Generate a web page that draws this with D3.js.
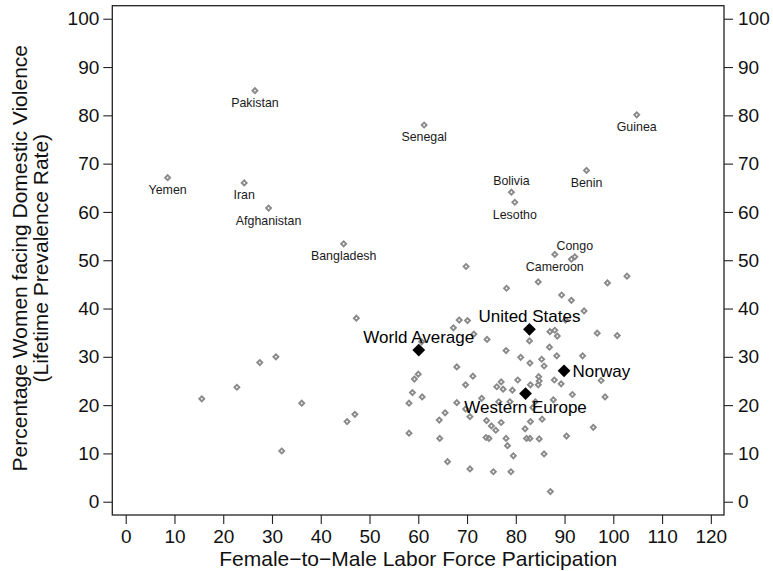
<!DOCTYPE html>
<html>
<head>
<meta charset="utf-8">
<script src="https://cdn.jsdelivr.net/npm/d3@7"></script>
<style>
  html, body { margin: 0; padding: 0; background: #fff; }
  svg { display: block; font-family: "Liberation Sans", Arial, Helvetica, sans-serif; }
</style>
</head>
<body>
<svg id="chart" width="773" height="571"></svg>
<script>
// ---------- data ----------
const xTicks = [0, 10, 20, 30, 40, 50, 60, 70, 80, 90, 100, 110, 120];
const yTicks = [0, 10, 20, 30, 40, 50, 60, 70, 80, 90, 100];

// unlabeled countries: [labor participation ratio, DV prevalence]
const countryX = [
  15.6, 22.8, 27.5, 30.8, 32.0, 36.1, 45.4, 47.0, 47.3, 58.1, 58.1, 58.8, 59.2, 60.0, 60.8, 60.7,
  64.3, 65.5, 64.4, 66.0, 67.2, 68.4, 70.1, 71.4, 69.8, 67.9, 71.2, 69.7, 67.9, 69.7, 70.6, 70.6,
  73.0, 74.1, 74.0, 75.0, 75.9, 77.0, 73.9, 74.5, 75.4, 76.5, 77.0, 76.1, 77.4, 78.0, 78.1, 78.0,
  78.3, 78.8, 79.3, 79.5, 79.0,
  80.4, 81.0, 81.9, 82.2, 82.8, 82.9, 82.9, 83.0, 83.0, 84.0, 84.6, 84.7, 84.8, 84.6, 84.8, 85.3,
  85.8, 85.4, 85.8, 86.9, 87.0, 88.0, 88.5, 87.1, 87.7, 87.9, 88.4, 89.3, 89.4, 90.2, 90.4, 91.4,
  91.4, 91.6, 93.7, 94.0, 95.9, 96.7, 97.5, 98.3, 98.8, 100.8, 102.8, 83.5
];
const countryY = [
  21.3, 23.7, 28.8, 30.0, 10.5, 20.4, 16.6, 18.1, 38.0, 14.2, 20.4, 22.6, 25.4, 26.4, 21.7, 33.1,
  16.9, 18.4, 13.1, 8.3, 36.0, 37.6, 37.5, 34.7, 48.7, 27.9, 26.0, 24.2, 20.5, 19.2, 17.6, 6.8,
  21.4, 33.6, 16.8, 15.7, 14.8, 16.4, 13.3, 13.1, 6.2, 20.7, 24.8, 23.8, 23.3, 31.3, 44.2, 13.1,
  11.6, 20.7, 23.1, 9.5, 6.2,
  25.2, 29.9, 15.1, 13.1, 33.3, 28.7, 13.1, 24.2, 16.6, 20.7, 24.2, 25.9, 25.0, 45.5, 13.0, 29.5,
  28.1, 17.1, 9.9, 32.0, 35.2, 35.5, 34.3, 2.1, 21.1, 25.2, 30.2, 24.4, 42.8, 37.6, 13.6, 41.7,
  50.2, 22.2, 30.2, 39.5, 15.4, 34.9, 25.1, 21.7, 45.3, 34.4, 46.7, 19.5
];

// labeled countries
const namedCountries = ["Yemen", "Pakistan", "Iran", "Afghanistan", "Bangladesh", "Senegal",
  "Bolivia", "Lesotho", "Benin", "Guinea", "Congo", "Cameroon"];
const namedX = [8.6, 26.5, 24.3, 29.3, 44.7, 61.2, 79.1, 79.8, 94.5, 104.8, 92.1, 88.0];
const namedY = [67.1, 85.1, 66.0, 60.8, 53.4, 78.0, 64.1, 62.0, 68.6, 80.1, 50.7, 51.2];
const namedPos = ["below", "below", "below", "below", "below", "below",
  "above", "below", "below", "below", "above", "below"];

// reference aggregates
const refNames = ["World Average", "United States", "Norway", "Western Europe"];
const refX = [60.1, 82.8, 89.9, 82.0];
const refY = [31.4, 35.7, 27.1, 22.4];
const refPos = ["above", "above", "right", "below"];

// ---------- layout ----------
const W = 773, H = 571;
const margin = { left: 112.3, right: 49, top: 5.7, bottom: 56 };
const svg = d3.select("#chart");

const x = d3.scaleLinear().domain([-2.75, 122.7]).range([margin.left, W - margin.right]);
const y = d3.scaleLinear().domain([-2.75, 102.7]).range([H - margin.bottom, margin.top]);

const tickFont = 19;
const axisColor = "#222";

// frame
svg.append("rect")
  .attr("x", margin.left).attr("y", margin.top)
  .attr("width", W - margin.right - margin.left)
  .attr("height", H - margin.bottom - margin.top)
  .attr("fill", "none").attr("stroke", axisColor).attr("stroke-width", 1.3);

function styleAxis(g) {
  g.select(".domain").remove();
  g.selectAll(".tick line").attr("stroke", axisColor).attr("stroke-width", 1.1);
  g.selectAll(".tick text").attr("fill", "#111").attr("font-size", tickFont)
    .attr("font-family", "Liberation Sans, Arial, sans-serif");
}

svg.append("g")
  .attr("transform", `translate(0,${H - margin.bottom})`)
  .call(d3.axisBottom(x).tickValues(xTicks).tickSize(9).tickPadding(6).tickFormat(d3.format("d")))
  .call(styleAxis);

svg.append("g")
  .attr("transform", `translate(${margin.left},0)`)
  .call(d3.axisLeft(y).tickValues(yTicks).tickSize(9).tickPadding(4).tickFormat(d3.format("d")))
  .call(styleAxis);

svg.append("g")
  .attr("transform", `translate(${W - margin.right},0)`)
  .call(d3.axisRight(y).tickValues(yTicks).tickSize(9).tickPadding(5).tickFormat(d3.format("d")))
  .call(styleAxis);

// axis titles
svg.append("text")
  .attr("x", x(60)).attr("y", 566)
  .attr("text-anchor", "middle").attr("font-size", 21).attr("fill", "#111")
  .text("Female\u2212to\u2212Male Labor Force Participation");

const yTitle = svg.append("g").attr("transform", `translate(0,${y(50) - 2}) rotate(-90)`);
yTitle.append("text").attr("x", 0).attr("y", 27)
  .attr("text-anchor", "middle").attr("font-size", 21).attr("fill", "#111")
  .text("Percentage Women facing Domestic Violence");
yTitle.append("text").attr("x", 0).attr("y", 48)
  .attr("text-anchor", "middle").attr("font-size", 21).attr("fill", "#111")
  .text("(Lifetime Prevalence Rate)");

// markers
const greyDiamond = d3.symbol().type(d3.symbolSquare).size(12.5);
const blackDiamond = d3.symbol().type(d3.symbolSquare).size(82);
const grey = "#8a8a8a";

const plain = countryX.map((d, i) => ({ x: d, y: countryY[i] }));
svg.append("g").selectAll("path").data(plain).join("path")
  .attr("d", greyDiamond)
  .attr("transform", d => `translate(${x(d.x)},${y(d.y)}) rotate(45)`)
  .attr("fill", "none").attr("stroke", grey).attr("stroke-width", 1.9);

const named = namedCountries.map((n, i) => ({ name: n, x: namedX[i], y: namedY[i], pos: namedPos[i] }));
svg.append("g").selectAll("path").data(named).join("path")
  .attr("d", greyDiamond)
  .attr("transform", d => `translate(${x(d.x)},${y(d.y)}) rotate(45)`)
  .attr("fill", "none").attr("stroke", grey).attr("stroke-width", 1.9);

svg.append("g").selectAll("text").data(named).join("text")
  .attr("x", d => x(d.x))
  .attr("y", d => y(d.y) + (d.pos === "above" ? -7 : 16.5))
  .attr("text-anchor", "middle").attr("font-size", 12.4).attr("fill", "#1a1a1a")
  .text(d => d.name);

const refs = refNames.map((n, i) => ({ name: n, x: refX[i], y: refY[i], pos: refPos[i] }));
svg.append("g").selectAll("path").data(refs).join("path")
  .attr("d", blackDiamond)
  .attr("transform", d => `translate(${x(d.x)},${y(d.y)}) rotate(45)`)
  .attr("fill", "#000");

svg.append("g").selectAll("text").data(refs).join("text")
  .attr("x", d => x(d.x) + (d.pos === "right" ? 8.5 : 0))
  .attr("y", d => y(d.y) + (d.pos === "above" ? -7.5 : d.pos === "below" ? 19.5 : 6.2))
  .attr("text-anchor", d => d.pos === "right" ? "start" : "middle")
  .attr("font-size", 17).attr("fill", "#000")
  .text(d => d.name);
</script>
</body>
</html>
